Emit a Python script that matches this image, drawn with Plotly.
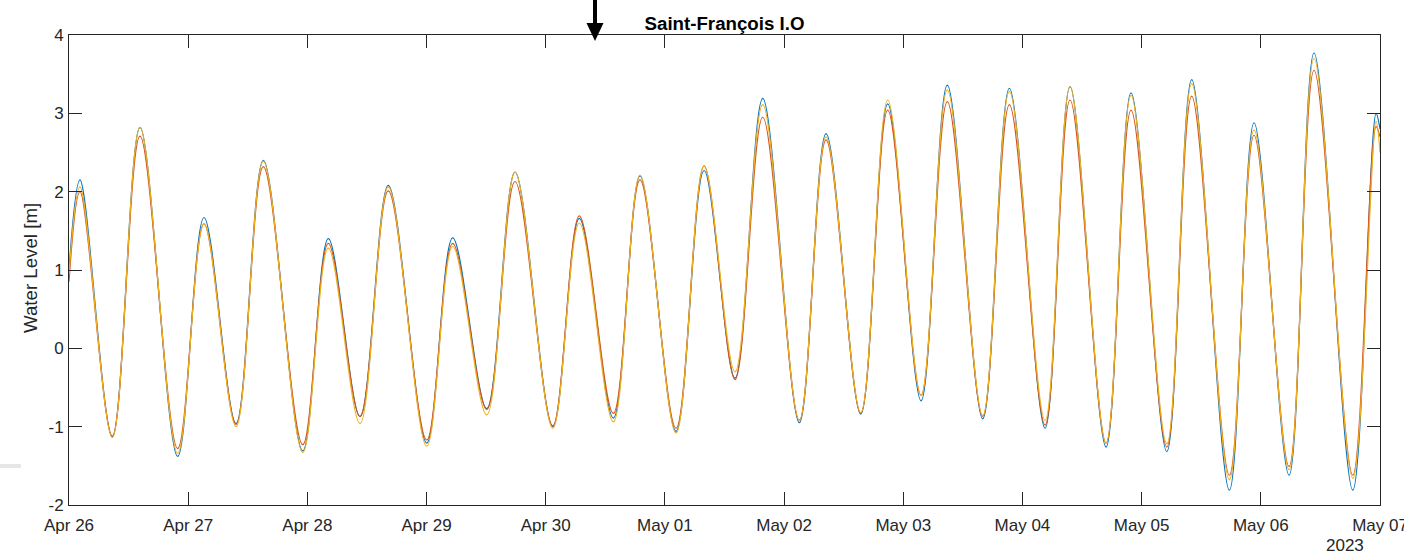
import pandas as pd
import plotly.graph_objects as go

# Times of the read extrema (local), plus start / end of the window
times = [
    "2023-04-26 00:00", "2023-04-26 02:13", "2023-04-26 08:43", "2023-04-26 14:18",
    "2023-04-26 21:53", "2023-04-27 03:11", "2023-04-27 09:38", "2023-04-27 15:08",
    "2023-04-27 23:04", "2023-04-28 04:13", "2023-04-28 10:36", "2023-04-28 16:18",
    "2023-04-29 00:02", "2023-04-29 05:16", "2023-04-29 12:07", "2023-04-29 17:49",
    "2023-04-30 01:25", "2023-04-30 06:46", "2023-04-30 13:37", "2023-04-30 18:59",
    "2023-05-01 02:14", "2023-05-01 07:53", "2023-05-01 14:07", "2023-05-01 19:42",
    "2023-05-02 03:04", "2023-05-02 08:27", "2023-05-02 15:26", "2023-05-02 20:52",
    "2023-05-03 03:35", "2023-05-03 08:52", "2023-05-03 16:00", "2023-05-03 21:22",
    "2023-05-04 04:33", "2023-05-04 09:35", "2023-05-04 16:50", "2023-05-04 21:52",
    "2023-05-05 05:04", "2023-05-05 10:05", "2023-05-05 17:40", "2023-05-05 22:38",
    "2023-05-06 05:41", "2023-05-06 10:43", "2023-05-06 18:31", "2023-05-06 23:12",
    "2023-05-07 00:00",
]

level_blue = [
    1.00, 2.15, -1.13, 2.82, -1.38, 1.67, -0.96, 2.40, -1.31, 1.40, -0.87, 2.08,
    -1.21, 1.41, -0.77, 2.25, -1.00, 1.66, -0.89, 2.20, -1.06, 2.27, -0.38, 3.19,
    -0.95, 2.74, -0.84, 3.12, -0.67, 3.36, -0.90, 3.32, -1.02, 3.34, -1.26, 3.26,
    -1.32, 3.43, -1.81, 2.88, -1.62, 3.77, -1.81, 3.00, 2.80,
]
level_orange = [
    0.85, 2.00, -1.12, 2.71, -1.28, 1.59, -0.97, 2.32, -1.23, 1.34, -0.87, 2.01,
    -1.17, 1.34, -0.78, 2.13, -0.99, 1.69, -0.83, 2.15, -1.02, 2.33, -0.40, 2.95,
    -0.92, 2.66, -0.83, 3.04, -0.60, 3.15, -0.87, 3.11, -0.98, 3.17, -1.21, 3.04,
    -1.26, 3.22, -1.62, 2.72, -1.51, 3.55, -1.62, 2.83, 2.70,
]
level_yellow = [
    0.95, 2.06, -1.14, 2.82, -1.34, 1.59, -1.00, 2.39, -1.33, 1.28, -0.96, 2.06,
    -1.25, 1.30, -0.85, 2.25, -1.02, 1.60, -0.94, 2.21, -1.08, 2.33, -0.30, 3.11,
    -0.92, 2.70, -0.82, 3.17, -0.60, 3.30, -0.86, 3.28, -0.92, 3.34, -1.21, 3.23,
    -1.22, 3.38, -1.68, 2.79, -1.55, 3.70, -1.66, 2.90, 2.50,
]

y_ticks = [-2, -1, 0, 1, 2, 3, 4]
y_tick_text = ["-2", "-1", "0", "1", "2", "3", "4"]

t = pd.to_datetime(times)

series = [
    (level_blue, "#0072BD"),
    (level_orange, "#D95319"),
    (level_yellow, "#EDB120"),
]

fig = go.Figure()
for vals, col in series:
    fig.add_trace(go.Scatter(
        x=t, y=vals, mode="lines",
        line=dict(color=col, width=1.2, shape="spline", smoothing=1.0),
        showlegend=False, hoverinfo="skip",
    ))

axis_col = "#262626"
font_fam = "Liberation Sans, Arial, Helvetica, sans-serif"

fig.update_layout(
    width=1404, height=555, autosize=False,
    margin=dict(l=69, r=24, t=35, b=50),
    paper_bgcolor="white", plot_bgcolor="white",
    font=dict(family=font_fam, size=17, color=axis_col),
    title=dict(
        text="<b>Saint-François I.O</b>",
        x=0.5, xref="paper", xanchor="center",
        y=1 - 23 / 555, yref="container", yanchor="middle",
        font=dict(family=font_fam, size=18.7, color="black"),
        automargin=False,
    ),
)

fig.update_xaxes(
    type="date",
    range=["2023-04-26 00:00", "2023-05-07 00:00"],
    dtick=86400000, tick0="2023-04-26",
    tickformat="%b %d",
    showgrid=False, zeroline=False,
    showline=True, linecolor=axis_col, linewidth=1, mirror="ticks",
    ticks="inside", ticklen=13, tickwidth=1, tickcolor=axis_col,
    tickfont=dict(size=17, color=axis_col),
    ticklabeloverflow="allow", ticklabelstandoff=5,
    automargin=False,
)
fig.update_yaxes(
    range=[-2, 4],
    tickvals=y_ticks, ticktext=y_tick_text,
    showgrid=False, zeroline=False,
    showline=True, linecolor=axis_col, linewidth=1, mirror="ticks",
    ticks="inside", ticklen=13, tickwidth=1, tickcolor=axis_col,
    tickfont=dict(size=17, color=axis_col),
    ticklabelstandoff=1,
    automargin=False,
)

# y-axis label
fig.add_annotation(
    text="Water Level [m]", textangle=-90,
    xref="paper", yref="paper", x=(30 - 69) / 1311, y=(505 - 268) / 470,
    xanchor="center", yanchor="middle", showarrow=False,
    font=dict(family=font_fam, size=18.7, color=axis_col),
)
# year label under last tick
fig.add_annotation(
    text="2023",
    xref="paper", yref="paper", x=(1345 - 69) / 1311, y=(505 - 545.5) / 470,
    xanchor="center", yanchor="middle", showarrow=False,
    font=dict(family=font_fam, size=17, color=axis_col),
)

def px_x(X):
    return (X - 69) / 1311

def px_y(Y):
    return (505 - Y) / 470

# black arrow above the axes
fig.add_shape(
    type="rect", xref="paper", yref="paper",
    x0=px_x(593), x1=px_x(597), y0=px_y(24), y1=px_y(-2),
    fillcolor="black", line=dict(width=0), layer="above",
)
fig.add_shape(
    type="path", xref="paper", yref="paper",
    path=(f"M {px_x(586.5)} {px_y(23)} L {px_x(603.5)} {px_y(23)} "
          f"L {px_x(595)} {px_y(41)} Z"),
    fillcolor="black", line=dict(width=0), layer="above",
)
# faint grey mark at the left edge
fig.add_shape(
    type="rect", xref="paper", yref="paper",
    x0=px_x(0), x1=px_x(21), y0=px_y(468), y1=px_y(464),
    fillcolor="#e6e6e6", line=dict(width=0), layer="above",
)

fig.write_html("out.html")
